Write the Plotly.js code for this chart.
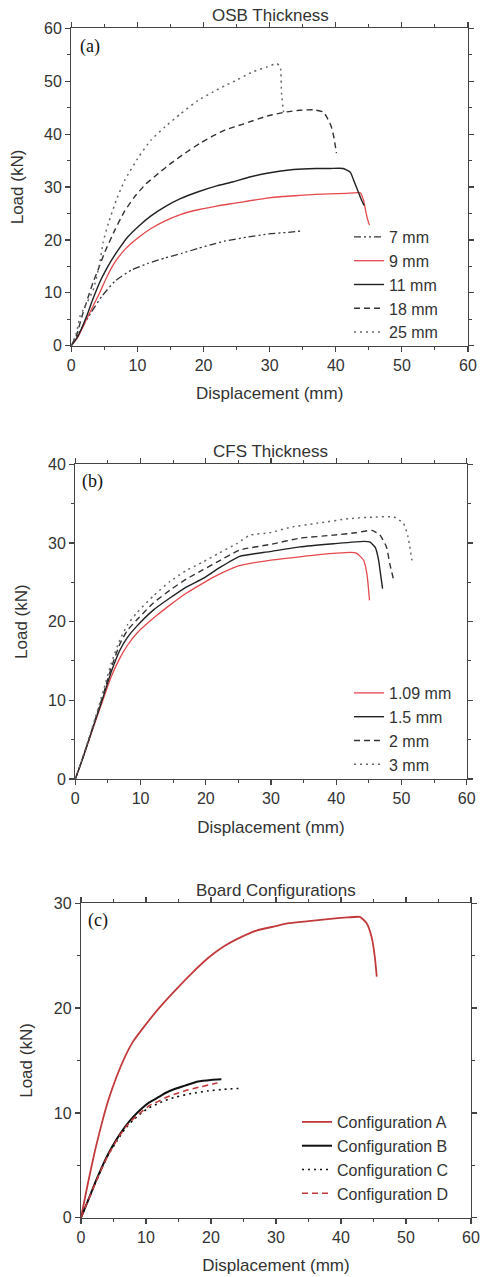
<!DOCTYPE html>
<html>
<head>
<meta charset="utf-8">
<script src="https://cdn.plot.ly/plotly-3.0.1.min.js"></script>
<style>html,body{margin:0;padding:0;background:#fff;}#chart{width:482px;height:1277px;}</style>
</head>
<body>
<div id="chart"></div>
<script>
// ---------- Panel (a): OSB thickness ----------
const osb7_x  = [0, 1, 2, 3, 4.6, 6.6, 9.1, 11.5, 14.2, 16.8, 19.2, 21.5, 23.3, 26.5, 29.6, 32.5, 34.8];
const osb7_y  = [0, 2.1, 4.2, 6.3, 9.3, 12.2, 14.3, 15.5, 16.6, 17.5, 18.4, 19.2, 19.8, 20.5, 21.1, 21.4, 21.7];
const osb9_x  = [0, 1, 2.3, 3.3, 4.3, 5.3, 6.6, 8.2, 10.1, 12, 14.2, 16.5, 19.2, 22, 24.5, 27, 29.6, 32, 34.6, 37, 39.1, 41.5, 43.7, 44.2, 44.6, 44.9, 45.1];
const osb9_y  = [0, 1.6, 5, 7.5, 10, 12.8, 15.8, 18.3, 20.4, 22.1, 23.6, 24.8, 25.7, 26.4, 26.9, 27.4, 27.9, 28.2, 28.4, 28.6, 28.7, 28.8, 28.9, 27.5, 25, 23.5, 22.8];
const osb11_x = [0, 1, 2.3, 3.2, 4.3, 5.1, 6, 7.1, 8.5, 10.1, 12, 14.2, 16.5, 19.2, 22, 24.5, 27, 29.6, 33.6, 37, 39.1, 41.1, 42.2, 42.7, 43.4, 43.9, 44.3];
const osb11_y = [0, 1.8, 5.5, 8.6, 12, 14, 16, 18.1, 20.5, 22.5, 24.5, 26.3, 27.8, 29.1, 30.2, 31, 31.9, 32.6, 33.3, 33.5, 33.5, 33.5, 32.8, 31.3, 29.1, 27.5, 26.5];
const osb18_x = [0, 0.8, 1.6, 2.5, 3.3, 4.1, 5, 6.6, 8, 9.6, 11.3, 13.2, 15.2, 17.2, 19.5, 21.5, 23.3, 26, 29.6, 32.6, 34.5, 36.6, 38.1, 38.6, 39.3, 39.7, 40.1];
const osb18_y = [0, 2, 5.5, 9, 12, 14.5, 17.5, 21.9, 25.3, 28.2, 30.6, 32.6, 34.6, 36.4, 38.3, 39.7, 40.8, 41.9, 43.4, 44.2, 44.5, 44.6, 44.2, 43.3, 41.5, 39.5, 36.4];
const osb25_x = [0, 0.8, 1.3, 2.1, 3.3, 4.3, 4.8, 5.6, 6.8, 8.1, 10.2, 12, 14.2, 16.5, 19.2, 21.5, 23.3, 24.5, 27.5, 29.6, 31.1, 31.6, 31.8, 32.1, 32.2];
const osb25_y = [0, 2.5, 5.5, 7.5, 10.5, 15.6, 19.5, 23.1, 27.5, 31.3, 35.7, 38.8, 41.4, 43.8, 46.4, 48, 49.2, 49.9, 51.8, 52.7, 53.3, 52.7, 47.7, 44.2, 43.5];
const osbNames = ['7 mm', '9 mm', '11 mm', '18 mm', '25 mm'];

// ---------- Panel (b): CFS thickness ----------
const cfs109_x = [0, 1, 2, 3, 4.3, 5.5, 6.85, 8, 9.4, 12.5, 14.5, 17, 19.6, 22, 24.7, 26.8, 29.8, 31.9, 35, 37, 40, 42.1, 43.1, 44.2, 44.7, 44.9, 45.1];
const cfs109_y = [0, 2.3, 4.7, 7.1, 10.2, 13, 15.4, 17, 18.5, 20.8, 22.1, 23.6, 24.9, 26, 27, 27.4, 27.8, 28, 28.3, 28.5, 28.7, 28.8, 28.7, 27.8, 26.1, 24.6, 22.7];
const cfs15_x  = [0, 1, 2, 3, 4.3, 5.5, 6.85, 8, 9.4, 12, 14.5, 17, 19.6, 22, 25.2, 29.8, 34.4, 39.6, 44.2, 45.2, 46, 46.5, 46.8, 47.1];
const cfs15_y  = [0, 2.3, 4.8, 7.3, 10.5, 13.6, 16.4, 18, 19.4, 21.5, 23, 24.4, 25.5, 26.8, 28.3, 28.9, 29.5, 29.9, 30.2, 30.1, 29.4, 27.8, 26, 24.2];
const cfs2_x   = [0, 1, 2, 3, 4.3, 5.5, 6.85, 8, 9.4, 12, 14.5, 17, 19.6, 22, 25.2, 29.8, 34.4, 39.6, 43, 45.5, 46.7, 47.7, 48.2, 48.8];
const cfs2_y   = [0, 2.3, 4.8, 7.4, 10.8, 14.1, 17.2, 18.9, 20.2, 22.4, 24, 25.4, 26.6, 27.7, 29.1, 29.8, 30.6, 31, 31.3, 31.6, 31, 29.5, 27.4, 25.3];
const cfs3_x   = [0, 1, 2, 3, 4.3, 5.5, 6.85, 8, 9.4, 12, 14.5, 17, 19.6, 22, 24.7, 26.8, 29.8, 33, 37, 42.1, 46, 48.8, 50.3, 51, 51.6];
const cfs3_y   = [0, 2.4, 5, 7.6, 11.2, 14.7, 17.7, 19.6, 21.1, 23.3, 25.1, 26.5, 27.6, 28.7, 29.9, 31, 31.3, 32, 32.5, 33.1, 33.3, 33.3, 32.5, 30.8, 27.8];
const cfsNames = ['1.09 mm', '1.5 mm', '2 mm', '3 mm'];

// ---------- Panel (c): board configurations ----------
const cfgA_x = [0, 1, 2.15, 3.2, 4.2, 5.5, 6.8, 8, 9.3, 12, 14.5, 17, 19.6, 22, 24.7, 27, 29.8, 32, 35, 38, 41, 42.9, 43.95, 44.7, 45.2, 45.5];
const cfgA_y = [0, 3.1, 6.4, 9, 11.2, 13.5, 15.4, 16.8, 17.9, 20, 21.7, 23.3, 24.8, 25.9, 26.8, 27.4, 27.8, 28.1, 28.3, 28.5, 28.65, 28.7, 28.1, 26.8, 24.9, 23];
const cfgB_x = [0, 1, 2.15, 3.2, 4.2, 5.5, 6.8, 8, 9.3, 10.5, 11.9, 13, 14.5, 16, 18, 20, 21.6];
const cfgB_y = [0, 1.5, 3.3, 4.8, 6.1, 7.5, 8.7, 9.6, 10.4, 11, 11.5, 11.9, 12.3, 12.6, 13, 13.15, 13.2];
const cfgC_x = [0, 1, 2.15, 3.2, 4.2, 5.5, 6.8, 8, 9.3, 10.5, 11.9, 13, 14.5, 17, 19.6, 22, 24.7];
const cfgC_y = [0, 1.5, 3.2, 4.7, 6, 7.3, 8.5, 9.3, 10, 10.5, 10.9, 11.2, 11.5, 11.85, 12.1, 12.25, 12.35];
const cfgD_x = [0, 1, 2.15, 3.2, 4.2, 5.5, 6.8, 8, 9.3, 10.5, 11.9, 13, 14.5, 16.5, 18.5, 20.6, 21];
const cfgD_y = [0, 1.5, 3.2, 4.7, 6, 7.4, 8.6, 9.4, 10.1, 10.7, 11.1, 11.45, 11.8, 12.2, 12.5, 12.8, 12.85];
const cfgNames = ['Configuration A', 'Configuration B', 'Configuration C', 'Configuration D'];

// ticks / texts
const xTickVals = [0, 10, 20, 30, 40, 50, 60];
const yMax = [60, 40, 30];
const panelTitles = ['OSB Thickness', 'CFS Thickness', 'Board Configurations'];
const panelLabels = ['(a)', '(b)', '(c)'];

// ---------- styles ----------
const RED = '#e5484d', BLACK = '#222222', GRAY = '#666666', DRED = '#c23a3c';
const DASHDOTDOT = '7px,3px,2px,3px,2px,3px';
const DASH = '6px,4px';
const DOT = '2px,4px';

function tr(x, y, name, color, dash, width, ax, leg) {
  return {x: x, y: y, name: name, type: 'scatter', mode: 'lines',
    line: {color: color, dash: dash, width: width, shape: 'spline', smoothing: 0.5},
    xaxis: 'x' + ax, yaxis: 'y' + ax, legend: leg};
}

const traces = [
  tr(osb7_x, osb7_y, osbNames[0], '#333333', DASHDOTDOT, 1.3, '', 'legend'),
  tr(osb9_x, osb9_y, osbNames[1], RED, 'solid', 1.3, '', 'legend'),
  tr(osb11_x, osb11_y, osbNames[2], BLACK, 'solid', 1.4, '', 'legend'),
  tr(osb18_x, osb18_y, osbNames[3], '#333333', DASH, 1.4, '', 'legend'),
  tr(osb25_x, osb25_y, osbNames[4], GRAY, DOT, 1.5, '', 'legend'),
  tr(cfs109_x, cfs109_y, cfsNames[0], RED, 'solid', 1.3, '2', 'legend2'),
  tr(cfs15_x, cfs15_y, cfsNames[1], BLACK, 'solid', 1.4, '2', 'legend2'),
  tr(cfs2_x, cfs2_y, cfsNames[2], '#333333', DASH, 1.4, '2', 'legend2'),
  tr(cfs3_x, cfs3_y, cfsNames[3], GRAY, DOT, 1.5, '2', 'legend2'),
  tr(cfgA_x, cfgA_y, cfgNames[0], DRED, 'solid', 1.8, '3', 'legend3'),
  tr(cfgB_x, cfgB_y, cfgNames[1], '#111111', 'solid', 2, '3', 'legend3'),
  tr(cfgC_x, cfgC_y, cfgNames[2], '#111111', DOT, 1.6, '3', 'legend3'),
  tr(cfgD_x, cfgD_y, cfgNames[3], DRED, DASH, 1.6, '3', 'legend3')
];

const W = 482, H = 1277;
const px = v => v / W;
const py = v => 1 - v / H;
// plot rectangles in pixels [left, right, top, bottom]
const rects = [[71.3, 468, 28.3, 345.7], [75.3, 466.7, 464.3, 779], [81, 471, 903.3, 1217.7]];

const FONT = 'Arial, Liberation Sans, sans-serif';
const TXT = '#333333', AXC = '#444444';
const layout = {
  width: W, height: H,
  margin: {l: 0, r: 0, t: 0, b: 0},
  paper_bgcolor: '#ffffff', plot_bgcolor: '#ffffff',
  font: {family: FONT, color: TXT},
  showlegend: true,
  annotations: []
};

const axLine = {showline: true, mirror: 'ticks', linecolor: AXC, linewidth: 1.2, zeroline: false, showgrid: false};
rects.forEach(function (r, i) {
  const n = i === 0 ? '' : String(i + 1);
  const xd = [px(r[0]), px(r[1])], yd = [py(r[3]), py(r[2])];
  layout['xaxis' + n] = Object.assign({}, axLine, {
    domain: xd, anchor: 'y' + n, range: [0, 60], tickvals: xTickVals,
    ticks: 'outside', ticklen: 5, tickwidth: 1.2, tickcolor: AXC,
    minor: {ticks: 'outside', ticklen: 3, dtick: 5, tickcolor: AXC, tickwidth: 1},
    tickfont: {size: 16, color: TXT},
    title: {text: 'Displacement (mm)', font: {size: 17, color: TXT}, standoff: 14}
  });
  layout['yaxis' + n] = Object.assign({}, axLine, {
    domain: yd, anchor: 'x' + n, range: [0, yMax[i]], dtick: 10,
    ticks: 'outside', ticklen: 5, tickwidth: 1.2, tickcolor: AXC,
    minor: {ticks: 'outside', ticklen: 3, dtick: 5, tickcolor: AXC, tickwidth: 1},
    tickfont: {size: 16, color: TXT},
    title: {text: 'Load (kN)', font: {size: 17, color: TXT}, standoff: 16}
  });
});

// panel titles and (a)/(b)/(c) labels
const titlePos = [[270, 15], [270, 451], [276, 890]];
const labelPos = [[90, 46.7], [92, 481], [98, 920.7]];
for (let i = 0; i < 3; i++) {
  layout.annotations.push({xref: 'paper', yref: 'paper', x: px(titlePos[i][0]), y: py(titlePos[i][1]),
    xanchor: 'center', yanchor: 'middle', showarrow: false, text: panelTitles[i],
    font: {family: FONT, size: 17, color: TXT}});
  layout.annotations.push({xref: 'paper', yref: 'paper', x: px(labelPos[i][0]), y: py(labelPos[i][1]),
    xanchor: 'center', yanchor: 'middle', showarrow: false, text: panelLabels[i],
    font: {family: 'Liberation Serif, Times New Roman, serif', size: 18, color: '#111111'}});
}

const legBase = {bgcolor: 'rgba(0,0,0,0)', borderwidth: 0, font: {family: FONT, size: 16, color: TXT},
  tracegroupgap: 0, itemwidth: 30, xanchor: 'left', yanchor: 'bottom', itemclick: false, itemdoubleclick: false};
layout.legend  = Object.assign({}, legBase, {x: px(349), y: py(349)});
layout.legend2 = Object.assign({}, legBase, {x: px(349), y: py(782)});
layout.legend3 = Object.assign({}, legBase, {x: px(297), y: py(1211)});

Plotly.newPlot('chart', traces, layout, {displayModeBar: false, staticPlot: true});
</script>
</body>
</html>
